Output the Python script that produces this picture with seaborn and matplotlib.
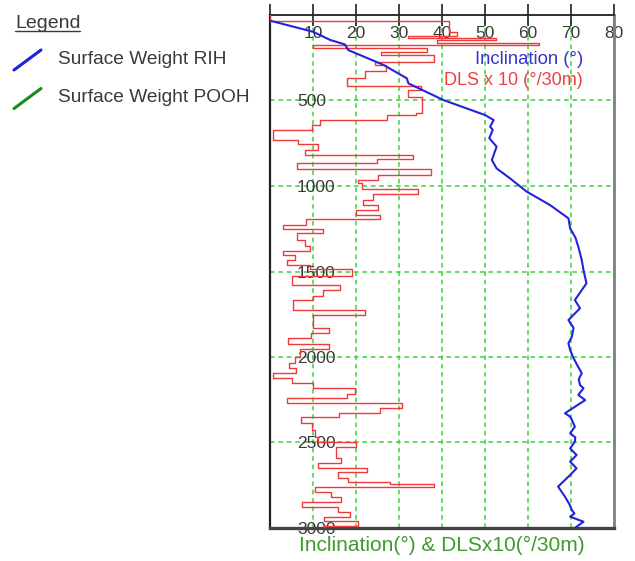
import numpy as np
import pandas as pd
import matplotlib
matplotlib.use("Agg")
import matplotlib.pyplot as plt
from matplotlib.lines import Line2D
import seaborn as sns

# Inclination survey (measured depth in m, inclination in degrees)
inc_depth = [33, 98, 146, 172, 205, 292, 370, 400, 497, 585, 614, 653, 672, 720, 770,
             848, 897, 955, 1033, 1111, 1189, 1248, 1300, 1355, 1433, 1491, 1569, 1620,
             1667, 1715, 1784, 1830, 1881, 1920, 1959, 2002, 2050, 2095, 2130, 2164, 2183,
             2222, 2252, 2329, 2349, 2368, 2408, 2446, 2470, 2495, 2535, 2573, 2612, 2651,
             2690, 2758, 2817, 2860, 2895, 2915, 2934, 2963, 3000]
inc_deg = [0.0, 10.0, 14.0, 17.4, 18.2, 26.4, 31.8, 32.2, 40.3, 50.0, 52.0, 51.2, 51.8,
           51.0, 52.7, 51.6, 52.7, 55.8, 59.7, 65.1, 69.4, 69.8, 71.0, 71.7, 72.5, 72.9,
           73.6, 72.2, 70.9, 72.1, 69.4, 70.6, 70.2, 69.4, 69.8, 70.5, 71.5, 72.5, 71.8,
           72.1, 72.9, 71.7, 73.3, 68.6, 69.8, 70.2, 70.9, 69.8, 71.0, 70.9, 69.8, 71.3,
           69.8, 71.3, 69.8, 67.0, 68.6, 69.6, 70.2, 70.8, 69.8, 72.9, 70.9]

# Dogleg severity x10 (deg/30m), constant over each interval starting at dls_top
dls_top = [0, 33, 101, 121, 133, 146, 162, 175, 191, 215, 234, 273, 292, 326, 368, 415,
           439, 478, 573, 585, 614, 643, 672, 731, 756, 789, 819, 844, 867, 902, 936,
           965, 984, 1018, 1047, 1082, 1111, 1140, 1170, 1195, 1228, 1253, 1277, 1316,
           1351, 1378, 1404, 1433, 1462, 1487, 1526, 1579, 1608, 1643, 1667, 1725, 1754,
           1830, 1860, 1889, 1924, 1955, 2000, 2037, 2066, 2095, 2125, 2154, 2183, 2216,
           2242, 2271, 2300, 2326, 2349, 2388, 2427, 2468, 2495, 2525, 2592, 2618, 2647,
           2674, 2706, 2733, 2743, 2762, 2788, 2817, 2846, 2879, 2905, 2934, 2959, 2988]
dls_x10 = [0.0, 41.6, 43.4, 32.0, 52.5, 38.8, 62.5, 10.0, 36.5, 25.9, 38.2, 24.4, 27.0,
           22.0, 18.0, 35.0, 32.0, 35.3, 34.0, 27.1, 11.6, 9.7, 0.7, 6.6, 11.2, 8.1,
           33.3, 24.8, 6.2, 37.4, 25.2, 20.5, 21.5, 34.4, 24.0, 21.7, 25.0, 20.0, 25.6,
           8.4, 3.1, 12.4, 6.3, 8.1, 9.3, 3.1, 5.8, 3.9, 9.3, 19.0, 5.0, 16.3, 12.4, 10.0,
           5.3, 22.0, 10.0, 13.8, 9.5, 4.3, 13.8, 7.0, 5.8, 4.5, 6.0, 0.6, 5.0, 10.0, 19.8,
           17.8, 4.0, 30.8, 25.6, 16.1, 7.1, 9.7, 10.5, 11.2, 20.0, 15.3, 16.4, 11.2, 22.5,
           15.7, 18.2, 27.8, 38.2, 10.5, 14.3, 16.4, 7.4, 15.7, 18.6, 12.6, 20.5, 12.6]
total_depth = 3000

x_ticks = [0, 10, 20, 30, 40, 50, 60, 70, 80]
x_tick_labels = ["", "10", "20", "30", "40", "50", "60", "70", "80"]
depth_ticks = [0, 500, 1000, 1500, 2000, 2500, 3000]
depth_tick_labels = ["", "500", "1000", "1500", "2000", "2500", "3000"]
legend_labels = ["Surface Weight RIH", "Surface Weight POOH"]
legend_colors = ["#1f1fe0", "#1a8a1a"]

INC_COLOR = "#2323dd"
DLS_COLOR = "#f03a3a"
GRID_COLOR = "#3fcf3f"
TEXT_COLOR = "#3a3a3a"

sns.set_style("white")
plt.rcParams["font.family"] = ["Liberation Sans", "DejaVu Sans"]

# Step outline of the DLS profile
dls_bottom = dls_top[1:] + [total_depth]
step = pd.DataFrame({
    "dls": np.repeat(dls_x10, 2),
    "depth": np.column_stack([dls_top, dls_bottom]).ravel(),
})
survey = pd.DataFrame({"inc": inc_deg, "depth": inc_depth})

W, H = 635, 561
fig = plt.figure(figsize=(W / 100, H / 100), dpi=100)
ax = fig.add_axes([270 / W, 1 - 528 / H, 344 / W, 513 / H])

sns.lineplot(data=step, x="dls", y="depth", sort=False, estimator=None,
             color=DLS_COLOR, linewidth=1.0, ax=ax, zorder=3)
sns.lineplot(data=survey, x="inc", y="depth", sort=False, estimator=None,
             color=INC_COLOR, linewidth=1.5, ax=ax, zorder=4)

ax.set_xlim(0, 80)
ax.set_ylim(total_depth, 0)
ax.set_axisbelow(True)
ax.grid(True, color=GRID_COLOR, linestyle=(0, (3, 2.5)), linewidth=1.1)

ax.xaxis.tick_top()
ax.set_xticks(x_ticks, labels=x_tick_labels, va="center")
ax.set_yticks(depth_ticks, labels=depth_tick_labels, ha="left")
ax.tick_params(axis="x", direction="inout", length=16, width=1.2, color="#222222",
               pad=-21.3, labelsize=12.5, labelcolor=TEXT_COLOR)
ax.tick_params(axis="y", direction="inout", length=25, width=1.2, color="#222222",
               pad=-32, labelsize=12.5, labelcolor=TEXT_COLOR)

ax.set_ylabel("")
ax.xaxis.set_label_position("bottom")
ax.set_xlabel("Inclination(°) & DLSx10(°/30m)", fontsize=15, color="#3f9a2f", labelpad=6)

for side, col, lw in [("top", "#222222", 1.3), ("left", "#222222", 1.6),
                      ("right", "#808080", 2.0), ("bottom", "#444444", 2.4)]:
    ax.spines[side].set_visible(True)
    ax.spines[side].set_color(col)
    ax.spines[side].set_linewidth(lw)

ax.text(0.91, 0.914, "Inclination (°)", transform=ax.transAxes, ha="right", va="center",
        fontsize=13.3, color="#3535cc")
ax.text(0.91, 0.873, "DLS x 10 (°/30m)", transform=ax.transAxes, ha="right", va="center",
        fontsize=13, color="#ee4040")

# Legend block to the left of the track
fig.text(15 / W, 1 - 28 / H, "Legend", ha="left", va="baseline", fontsize=14, color=TEXT_COLOR)
fig.add_artist(Line2D([15 / W, 80 / W], [1 - 31 / H, 1 - 31 / H], color=TEXT_COLOR,
                      linewidth=1.0, transform=fig.transFigure))
for i, (label, col) in enumerate(zip(legend_labels, legend_colors)):
    yc = 59 + i * 38.5
    fig.add_artist(Line2D([14 / W, 41 / W], [1 - (yc + 11) / H, 1 - (yc - 9) / H],
                          color=col, linewidth=2.2, transform=fig.transFigure))
    fig.text(58 / W, 1 - yc / H, label, ha="left", va="center", fontsize=13.8,
             color=TEXT_COLOR)

fig.savefig("out.png", dpi=100)
